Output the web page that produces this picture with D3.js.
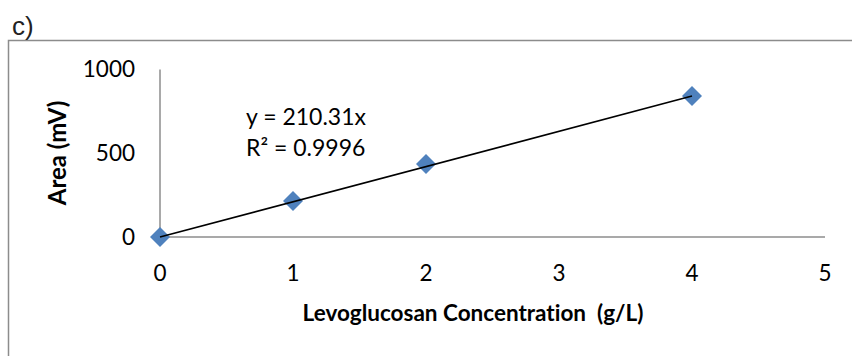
<!DOCTYPE html>
<html><head><meta charset="utf-8">
<script src="https://cdn.jsdelivr.net/npm/d3@7"></script>
<style>body{margin:0;background:#fff}svg{display:block}text{font-variant-ligatures:none;font-feature-settings:"liga" 0}</style>
</head><body>
<script>
const concentrations = [0, 1, 2, 4];
const areas = [0, 215, 436, 842];
const xTicks = [0, 1, 2, 3, 4, 5];
const yTicks = [0, 500, 1000];
const slope = 210.31;
const eqLabel = "y = 210.31x";
const r2Label = "R² = 0.9996";
const panelLabel = "c)";
const xTitle = "Levoglucosan Concentration\u00a0\u00a0(g/L)";
const yTitle = "Area (mV)";

const W = 852, H = 356;
const svg = d3.select("body").append("svg").attr("width", W).attr("height", H);
const font = "Lato, 'Open Sans', sans-serif";

// frame
svg.append("path").attr("d", `M8.5,${H} V40.5 H${W}`).attr("fill","none").attr("stroke","#8c8c8c").attr("stroke-width",1.5);
svg.append("text").attr("x",12).attr("y",35).attr("font-family","'Liberation Sans', Arial, sans-serif").attr("font-size",26).attr("fill","#222").text(panelLabel);

const x = d3.scaleLinear().domain([0,5]).range([160,825]);
const y = d3.scaleLinear().domain([0,1000]).range([237,69.5]);

// axes lines
svg.append("line").attr("x1",x(0)).attr("x2",x(5)).attr("y1",y(0)).attr("y2",y(0)).attr("stroke","#8c8c8c").attr("stroke-width",1.5);
svg.append("line").attr("x1",x(0)).attr("x2",x(0)).attr("y1",y(0)).attr("y2",y(1000)).attr("stroke","#8c8c8c").attr("stroke-width",1.5);

// tick labels
svg.selectAll(".yt").data(yTicks).join("text").attr("x",135).attr("y",d=>y(d)).attr("dy","0.35em")
  .attr("text-anchor","end").attr("font-family",font).attr("font-size",22.5).attr("fill","#000").text(d=>d);
svg.selectAll(".xt").data(xTicks).join("text").attr("x",d=>x(d)).attr("y",273).attr("dy","0.35em")
  .attr("text-anchor","middle").attr("font-family",font).attr("font-size",22.5).attr("fill","#000").text(d=>d);

// titles
svg.append("text").attr("transform","translate(58,153) rotate(-90)").attr("dy","0.35em").attr("text-anchor","middle")
  .attr("font-family",font).attr("font-weight","bold").attr("font-size",24).text(yTitle);
svg.append("text").attr("x",473).attr("y",313).attr("dy","0.35em").attr("text-anchor","middle")
  .attr("font-family",font).attr("font-weight","bold").attr("font-size",22.5).text(xTitle);

// points
svg.selectAll(".pt").data(concentrations.map((c,i)=>[c,areas[i]])).join("path")
  .attr("d", d3.symbol().type(d3.symbolSquare).size(200))
  .attr("transform", d=>`translate(${x(d[0])},${y(d[1])}) rotate(45)`)
  .attr("fill","#4F81BD");

// trendline (drawn over markers)
const xMax = d3.max(concentrations);
svg.append("line").attr("x1",x(0)).attr("y1",y(0)).attr("x2",x(xMax)).attr("y2",y(slope*xMax))
  .attr("stroke","#000").attr("stroke-width",1.6);

// equation
svg.append("text").attr("x",246).attr("y",117).attr("dy","0.35em").attr("font-family",font).attr("font-size",23).text(eqLabel);
svg.append("text").attr("x",246).attr("y",148).attr("dy","0.35em").attr("font-family",font).attr("font-size",23).text(r2Label);
</script>
</body></html>
